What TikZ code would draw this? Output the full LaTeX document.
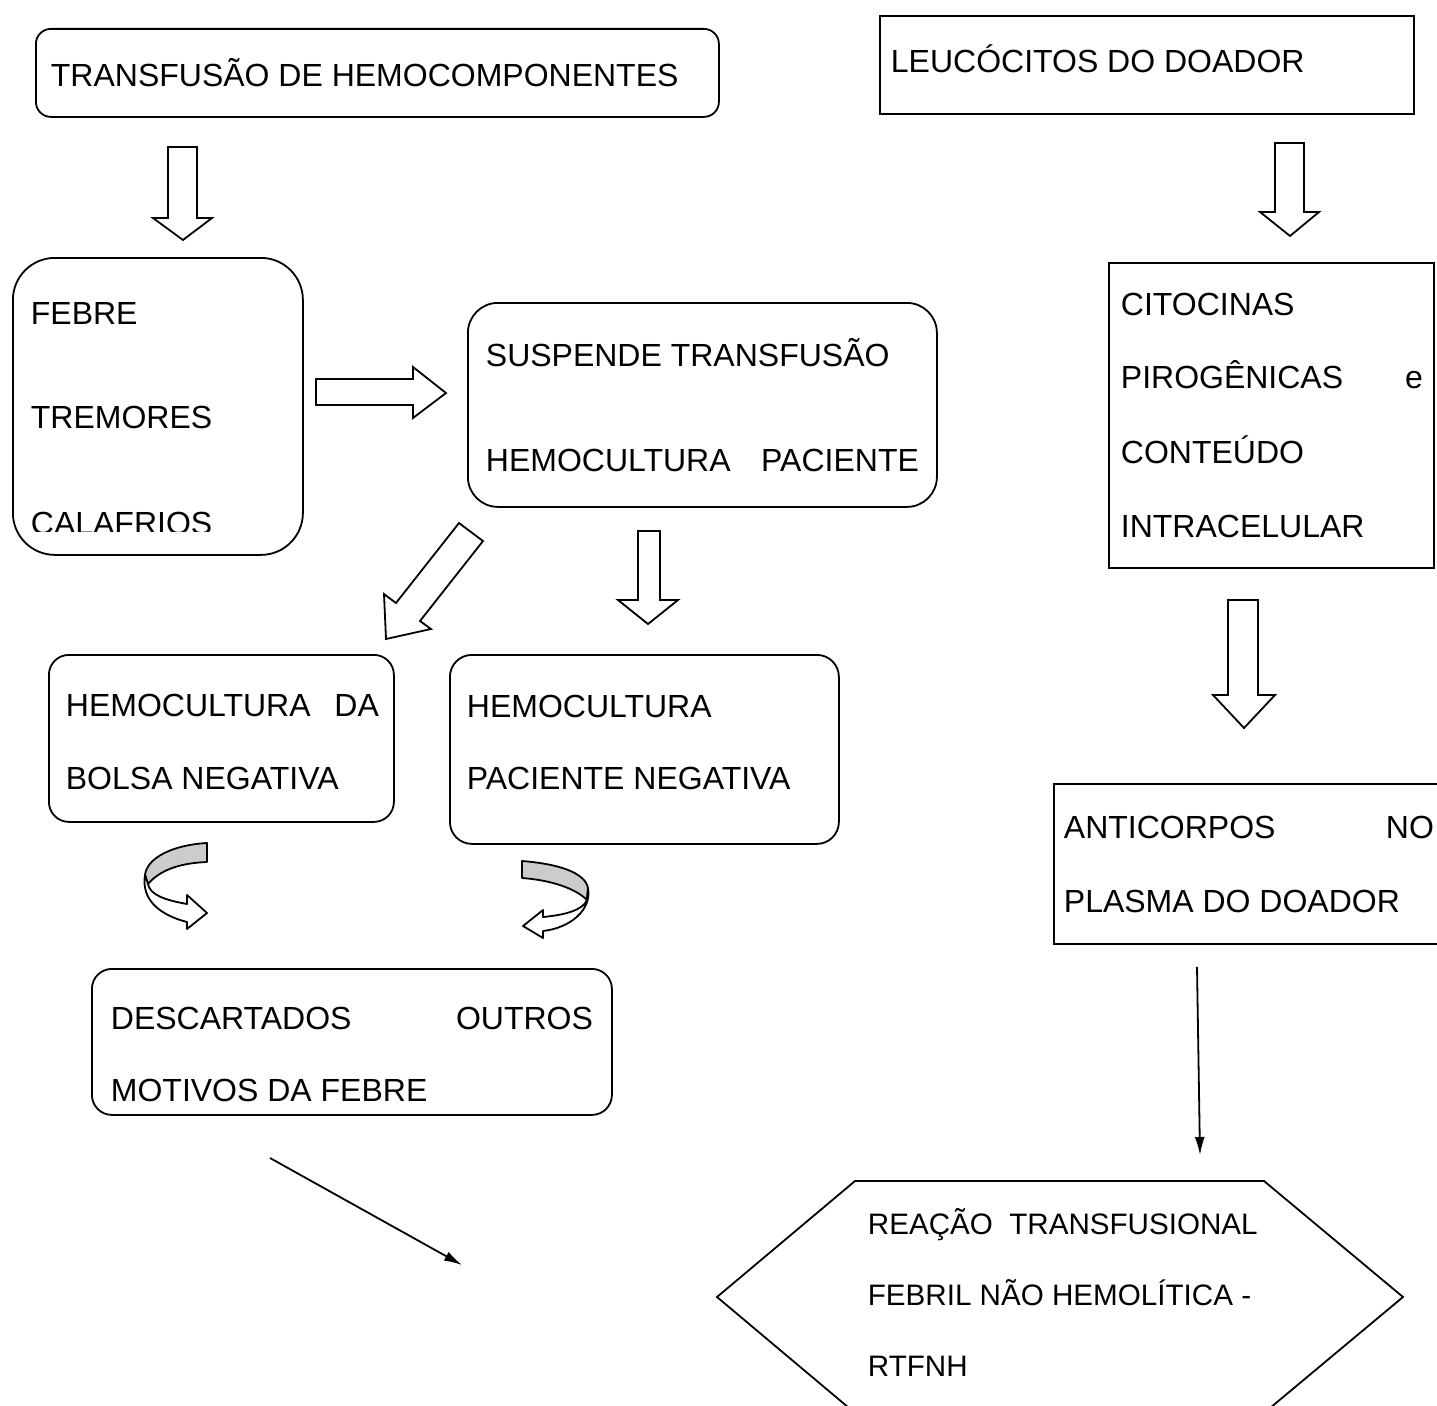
\documentclass[tikz,border=0pt]{standalone}
\usepackage{fontspec}
\setmainfont{Liberation Sans}
\usetikzlibrary{arrows.meta,calc}

\begin{document}
\begin{tikzpicture}[x=1pt,y=-1pt,line width=1.8pt,
  caixa/.style={draw,anchor=north west,inner sep=0pt},
  txt/.style={anchor=base west,inner sep=0pt,font=\fontsize{32}{38}\selectfont},
  txtp/.style={anchor=base west,inner sep=0pt,font=\fontsize{29.6}{35}\selectfont},
  seta/.style={draw,fill=white,line join=miter},
  dobra/.style={draw,fill=black!20,line join=round},
  fina/.style={-{Latex[length=18pt,width=10pt]}}]
\useasboundingbox (0,0) rectangle (1437,1405);
% caixas
\node[caixa,rounded corners=15pt,minimum width=683pt,minimum height=88pt] (transf) at (35,28) {};
\node[caixa,minimum width=534pt,minimum height=98pt] (leuc) at (879,15) {};
\node[caixa,rounded corners=42pt,minimum width=290pt,minimum height=297pt] (sint) at (12,257) {};
\node[caixa,rounded corners=30pt,minimum width=469pt,minimum height=204pt] (susp) at (467,302) {};
\node[caixa,rounded corners=20pt,minimum width=345pt,minimum height=167pt] (bolsa) at (48,654) {};
\node[caixa,rounded corners=22pt,minimum width=389pt,minimum height=189pt] (pac) at (449,654) {};
\node[caixa,rounded corners=20pt,minimum width=520pt,minimum height=146pt] (desc) at (91,968) {};
\node[caixa,minimum width=325pt,minimum height=305pt] (cito) at (1108,262) {};
\node[caixa,minimum width=400pt,minimum height=160pt] (anti) at (1053,783) {};
\coordinate (h1) at (855,1181);
\coordinate (h2) at (1264,1181);
\coordinate (h3) at (1403,1297);
\coordinate (h4) at (1264,1413);
\coordinate (h5) at (855,1413);
\coordinate (h6) at (717,1297);
\draw (h1) -- (h2) -- (h3) -- (h4) -- (h5) -- (h6) -- cycle;
% textos
\node[txt] (t1) at (50,86) {TRANSFUSÃO DE HEMOCOMPONENTES};
\node[txt] (t2) at (890,72) {LEUCÓCITOS DO DOADOR};
\node[txt] (febre) at (30,324) {FEBRE};
\node[txt] (trem) at (30,428) {TREMORES};
\begin{scope}
\clip (0,0) rectangle (320,531);
\node[txt] (cala) at (30,534) {CALAFRIOS};
\end{scope}
\node[txt] (susp1) at (485,366) {SUSPENDE TRANSFUSÃO};
\node[txt] (susp2) at (485,471) {\makebox[433pt][s]{HEMOCULTURA PACIENTE}};
\node[txt] (bolsa1) at (65,716) {\makebox[313pt][s]{HEMOCULTURA DA}};
\node[txt] (bolsa2) at (65,789) {BOLSA NEGATIVA};
\node[txt] (pac1) at (466,717) {HEMOCULTURA};
\node[txt] (pac2) at (466,789) {PACIENTE NEGATIVA};
\node[txt] (desc1) at (110,1029) {\makebox[482pt][s]{DESCARTADOS OUTROS}};
\node[txt] (desc2) at (110,1101) {MOTIVOS DA FEBRE};
\node[txt] (cito1) at (1120,315) {CITOCINAS};
\node[txt] (cito2) at (1120,388) {\makebox[302pt][s]{PIROGÊNICAS e}};
\node[txt] (cito3) at (1120,463) {CONTEÚDO};
\node[txt] (cito4) at (1120,537) {INTRACELULAR};
\node[txt] (anti1) at (1063,838) {\makebox[370pt][s]{ANTICORPOS NO}};
\node[txt] (anti2) at (1063,912) {PLASMA DO DOADOR};
\node[txtp] (hex1) at (867,1234) {REAÇÃO\ \ TRANSFUSIONAL};
\node[txtp] (hex2) at (867,1305) {FEBRIL NÃO HEMOLÍTICA -};
\node[txtp] (hex3) at (867,1376) {RTFNH};
% setas largas
\draw[seta] (168,147) -- (197,147) -- (197,218) -- (212,218) -- (183,240) -- (153,218) -- (168,218) -- cycle;
\draw[seta] (1275,143) -- (1304,143) -- (1304,212) -- (1319,212) -- (1290,236) -- (1260,212) -- (1275,212) -- cycle;
\draw[seta] (316,379) -- (413,379) -- (413,367) -- (446,393) -- (413,418) -- (413,405) -- (316,405) -- cycle;
\draw[seta] (459,523) -- (483,541) -- (420,621) -- (431,629) -- (386,639) -- (384,594) -- (396,603) -- cycle;
\draw[seta] (638,531) -- (660,531) -- (660,600) -- (678,600) -- (648,624) -- (618,600) -- (638,600) -- cycle;
\draw[seta] (1228,600) -- (1258,600) -- (1258,695) -- (1275,695) -- (1244,728) -- (1213,695) -- (1228,695) -- cycle;
% setas curvas
\draw[dobra] (207,843) .. controls (172,845) and (147,858) .. (145,875) -- (148,884) .. controls (160,870) and (180,863) .. (207,862) -- cycle;
\draw[seta,line join=round] (145,875) .. controls (141,900) and (160,915) .. (187,922) -- (187,929) -- (207,913) -- (187,895) -- (187,904) .. controls (165,900) and (150,895) .. (148,884) -- cycle;
\draw[dobra] (522,861) .. controls (560,864) and (585,873) .. (588,888) -- (587,900) .. controls (575,888) and (550,880) .. (522,878) -- cycle;
\draw[seta,line join=round] (588,888) .. controls (592,910) and (570,928) .. (543,931) -- (543,938) -- (523,926) -- (543,910) -- (543,917) .. controls (565,915) and (583,910) .. (587,900) -- cycle;
% setas finas
\coordinate (f1) at (270,1158);
\coordinate (f2) at (462,1265);
\draw[fina] (f1) -- (f2);
\draw[fina] ($(anti.south west)+(144,22)$) -- ($(h1)+(345,-26)$);
\end{tikzpicture}
\end{document}
